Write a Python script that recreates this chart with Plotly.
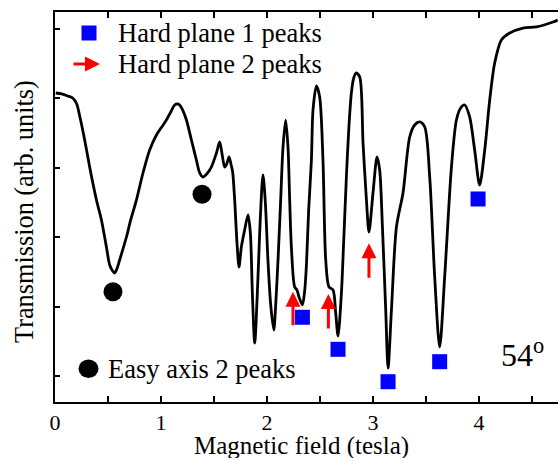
import plotly.graph_objects as go

# Transmission trace (x: tesla, y: arb. units)
field = [0.007, 0.063, 0.120, 0.167, 0.205, 0.233, 0.280, 0.327, 0.391, 0.438,
         0.485, 0.516, 0.544, 0.563, 0.587, 0.610, 0.674, 0.714, 0.768, 0.830,
         0.893, 0.957, 1.007, 1.051, 1.092, 1.129, 1.158, 1.176, 1.205, 1.240,
         1.287, 1.334, 1.365, 1.396, 1.431, 1.475, 1.523, 1.554, 1.579, 1.601,
         1.620, 1.642, 1.664, 1.676, 1.695, 1.717, 1.736, 1.758, 1.789, 1.821,
         1.843, 1.862, 1.884, 1.915, 1.936, 1.962, 1.983, 2.009, 2.035, 2.064,
         2.082, 2.104, 2.129, 2.151, 2.176, 2.198, 2.214, 2.230, 2.261, 2.283,
         2.302, 2.334, 2.356, 2.372, 2.393, 2.419, 2.434, 2.466, 2.497, 2.528,
         2.554, 2.585, 2.623, 2.648, 2.670, 2.702, 2.724, 2.749, 2.771, 2.796,
         2.818, 2.843, 2.875, 2.906, 2.938, 2.962, 3.000, 3.038, 3.063, 3.089,
         3.120, 3.142, 3.174, 3.221, 3.283, 3.346, 3.393, 3.441, 3.488, 3.535,
         3.582, 3.629, 3.676, 3.740, 3.787, 3.827, 3.865, 3.912, 3.959, 4.006,
         4.054, 4.101, 4.148, 4.211, 4.290, 4.415, 4.542, 4.698, 4.742]
transmission = [4.072, 4.058, 4.029, 4.000, 3.914, 3.741, 3.396, 3.007, 2.532, 2.245,
                1.856, 1.597, 1.511, 1.482, 1.554, 1.669, 2.000, 2.245, 2.532, 2.921,
                3.252, 3.468, 3.583, 3.683, 3.799, 3.899, 3.914, 3.899, 3.827, 3.683,
                3.396, 3.108, 2.921, 2.863, 2.906, 3.007, 3.209, 3.367, 3.165, 3.007,
                3.050, 3.151, 3.022, 2.935, 2.532, 1.914, 1.568, 1.856, 2.101, 2.317,
                2.058, 1.194, 0.475, 1.424, 2.245, 2.892, 2.532, 1.669, 1.022, 0.662,
                1.022, 1.669, 2.532, 3.295, 3.683, 3.295, 2.532, 1.856, 1.281, 1.237,
                1.137, 1.022, 1.237, 1.597, 2.388, 3.108, 3.827, 4.173, 4.014, 3.108,
                1.669, 1.281, 1.237, 0.906, 0.576, 1.194, 1.957, 2.863, 3.540, 4.072,
                4.288, 4.360, 4.302, 3.353, 2.532, 2.072, 2.633, 3.151, 2.964, 2.144,
                0.950, 0.115, 0.950, 2.144, 2.633, 3.439, 3.612, 3.655, 3.583, 2.863,
                1.424, 0.417, 1.424, 3.007, 3.683, 3.856, 3.899, 3.727, 3.252, 2.748,
                3.252, 3.971, 4.504, 4.835, 4.935, 5.007, 5.022, 5.094, 5.122]

# Easy axis 2 peaks (black circles)
easy_x = [0.547, 1.387]
easy_y = [1.213, 2.614]

# Hard plane 1 peaks (blue squares)
hard1_x = [2.334, 2.670, 3.142, 3.629, 3.991]
hard1_y = [0.845, 0.384, -0.082, 0.206, 2.547]

# Hard plane 2 peaks (red arrows): x, tail y, tip y
hard2_x = [2.245, 2.579, 2.962]
hard2_tail = [0.709, 0.662, 1.391]
hard2_tip = [1.213, 1.180, 1.909]

x_ticks = [0, 1, 2, 3, 4]
x_ticklabels = ["0", "1", "2", "3", "4"]

W, H = 558, 458
ML, MR, MT, MB = 55, 0, 12, 56
PW, PH = W - ML - MR, H - MT - MB
FONT = "Liberation Serif"


def px(xp):
    return (xp - ML) / PW


def py(yp):
    return (H - MB - yp) / PH


fig = go.Figure()
fig.add_trace(go.Scatter(x=field, y=transmission, mode="lines",
                         line=dict(color="black", width=2.8, shape="spline", smoothing=0.8),
                         showlegend=False, hoverinfo="skip"))
fig.add_trace(go.Scatter(x=easy_x, y=easy_y, mode="markers",
                         marker=dict(symbol="circle", size=19, color="black"),
                         showlegend=False))
fig.add_trace(go.Scatter(x=hard1_x, y=hard1_y, mode="markers",
                         marker=dict(symbol="square", size=15, color="#0000ff"),
                         showlegend=False))

annotations = []
for xv, yt, yh in zip(hard2_x, hard2_tail, hard2_tip):
    annotations.append(dict(x=xv, y=yh, ax=xv, ay=yt, xref="x", yref="y",
                            axref="x", ayref="y", text="", showarrow=True,
                            arrowhead=2, arrowsize=1.0, arrowwidth=3,
                            arrowcolor="#ff0000", standoff=0, startstandoff=0))

# Legend-like labels and axis titles
leg_font = dict(family=FONT, size=26.5, color="black")
annotations += [
    dict(x=px(116), y=py(33), xref="paper", yref="paper", text="Hard plane 1 peaks",
         showarrow=False, xanchor="left", yanchor="middle", font=leg_font),
    dict(x=px(116), y=py(64), xref="paper", yref="paper", text="Hard plane 2 peaks",
         showarrow=False, xanchor="left", yanchor="middle", font=leg_font),
    dict(x=px(106), y=py(369), xref="paper", yref="paper", text="Easy axis 2 peaks",
         showarrow=False, xanchor="left", yanchor="middle", font=leg_font),
    dict(x=px(100), y=py(64), xref="paper", yref="paper", text="", showarrow=True,
         ax=-28, ay=0, arrowhead=2, arrowsize=1.0, arrowwidth=3,
         arrowcolor="#ff0000", standoff=0, startstandoff=0),
    dict(x=px(499), y=py(353), xref="paper", yref="paper", text="54<sup>o</sup>",
         showarrow=False, xanchor="left", yanchor="middle",
         font=dict(family=FONT, size=32, color="black")),
    dict(x=px(301), y=py(446), xref="paper", yref="paper", text="Magnetic field (tesla)",
         showarrow=False, xanchor="center", yanchor="middle",
         font=dict(family=FONT, size=25, color="black")),
    dict(x=px(25), y=py(212), xref="paper", yref="paper", text="Transmission (arb. units)",
         showarrow=False, xanchor="center", yanchor="middle", textangle=-90,
         font=dict(family=FONT, size=26.3, color="black")),
]

shapes = [
    dict(type="rect", xref="paper", yref="paper", x0=px(81.5), x1=px(96.5),
         y0=py(40.5), y1=py(25.5), fillcolor="#0000ff", line=dict(width=0)),
    dict(type="circle", xref="paper", yref="paper", x0=px(78.5), x1=px(98.5),
         y0=py(378), y1=py(359.5), fillcolor="black", line=dict(width=0)),
]

fig.update_layout(
    template="none",
    width=W, height=H,
    margin=dict(l=ML, r=MR, t=MT, b=MB, pad=0, autoexpand=False),
    paper_bgcolor="white", plot_bgcolor="white",
    font=dict(family=FONT, color="black"),
    annotations=annotations, shapes=shapes,
    showlegend=False,
)
fig.update_xaxes(range=[0, PW / 106.0], tickmode="array", tickvals=x_ticks,
                 ticktext=x_ticklabels, ticks="inside", ticklen=6, tickwidth=1.5,
                 tickcolor="black", showline=True, linecolor="black", linewidth=1.5,
                 mirror="allticks", showgrid=False, zeroline=False, automargin=False,
                 tickfont=dict(family=FONT, size=22, color="black"),
                 minor=dict(dtick=0.5, ticks="inside", ticklen=6, tickwidth=1.5,
                            tickcolor="black", showgrid=False))
fig.update_yaxes(range=[-26 / 69.5, (376 - MT) / 69.5], dtick=1, tick0=0,
                 ticks="inside", ticklen=5, tickwidth=1.5, tickcolor="black",
                 showticklabels=False, showline=True, linecolor="black",
                 linewidth=1.5, mirror=False, showgrid=False, zeroline=False,
                 automargin=False)

fig.write_html("out.html", config={"displayModeBar": False},
               post_script="document.body.style.margin='0px';")
